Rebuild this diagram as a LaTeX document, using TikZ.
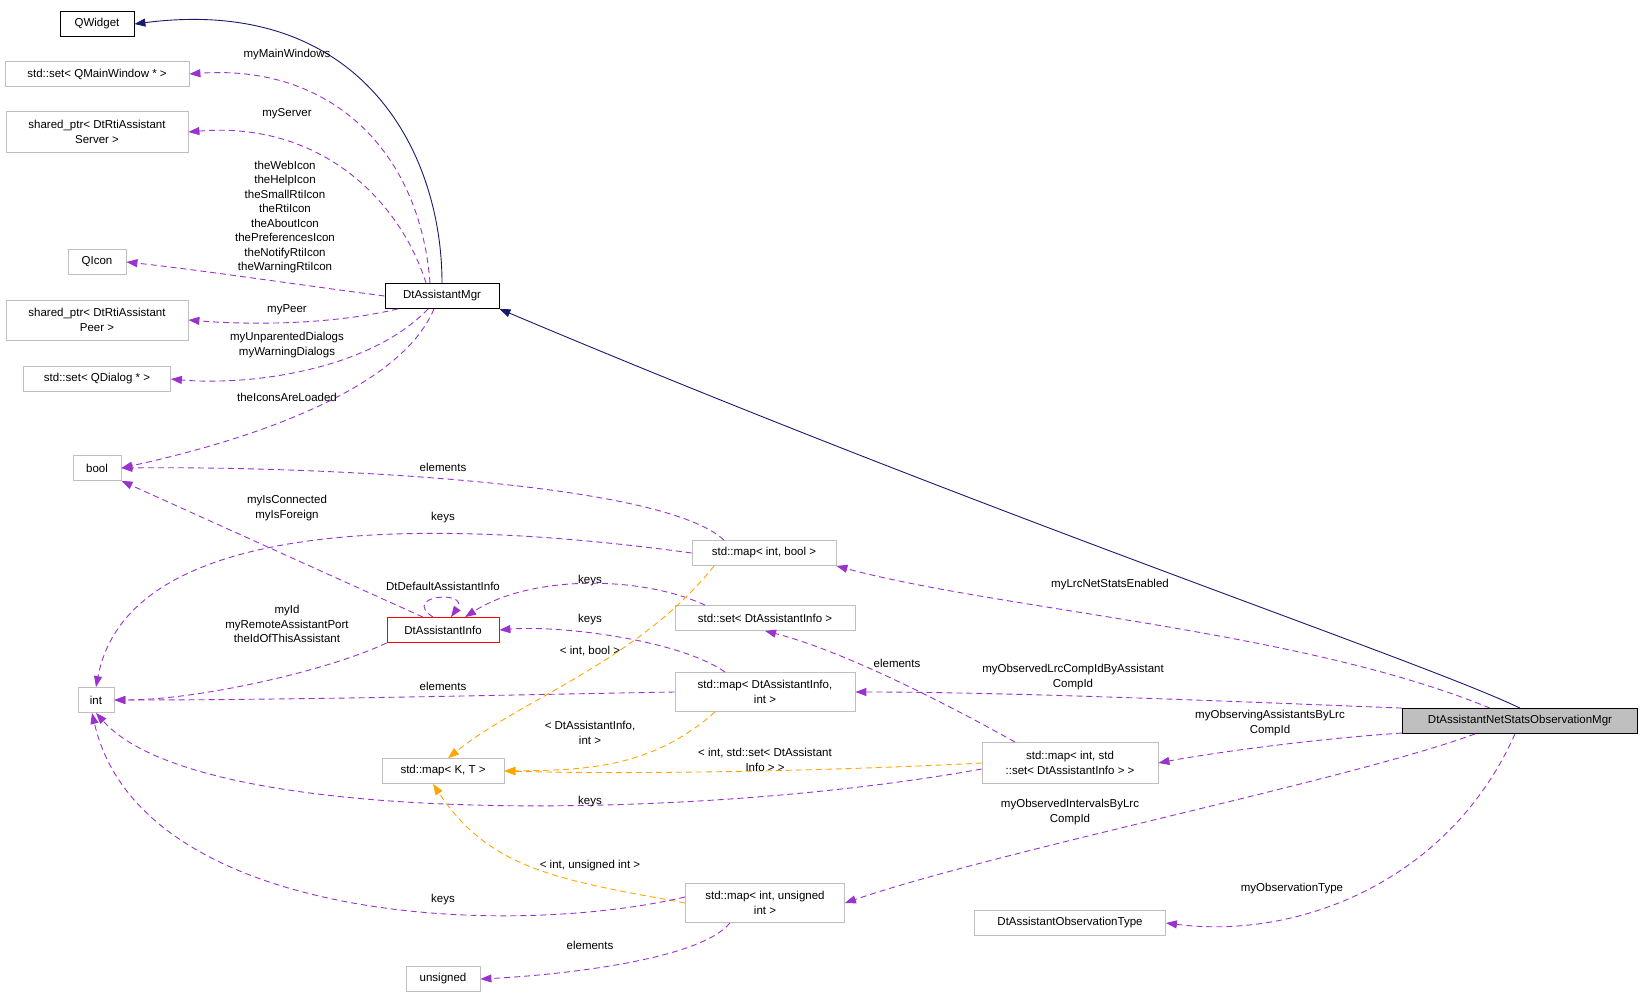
\documentclass[tikz,border=0pt]{standalone}
\usepackage{fontspec}
\setmainfont{Liberation Sans}
\usetikzlibrary{arrows.meta}
\definecolor{pur}{RGB}{154,50,205}
\definecolor{org}{RGB}{255,165,0}
\definecolor{nav}{RGB}{25,25,112}
\begin{document}
\begin{tikzpicture}[x=1pt,y=-1pt,
 every node/.style={font=\fontsize{11.5}{14.5}\selectfont,align=center,inner sep=0pt},
 box/.style={draw=black!25,line width=0.8pt,minimum height=25pt,fill=white},
 blk/.style={box,draw=black},
 mem/.style={draw=pur,dashed,dash pattern=on 6pt off 4pt,line width=0.9pt,-{Triangle[length=11pt,width=8pt,fill=pur]}},
 tpl/.style={mem,draw=org,-{Triangle[length=11pt,width=8pt,fill=org]}},
 inh/.style={draw=nav,line width=0.9pt,-{Triangle[length=11pt,width=8pt,fill=nav]}}]
\useasboundingbox (0,0) rectangle (1643,998);
\node[blk,minimum width=74pt] (qw) at (97,24) {QWidget};
\node[box,minimum width=184pt] (smw) at (97,74) {std::set< QMainWindow * >};
\node[box,minimum width=182pt,minimum height=41pt] (srv) at (97,132) {shared\_ptr< DtRtiAssistant\\Server >};
\node[box,minimum width=58pt] (qi) at (97,262) {QIcon};
\node[box,minimum width=182pt,minimum height=40pt] (peer) at (97,320) {shared\_ptr< DtRtiAssistant\\Peer >};
\node[box,minimum width=147pt] (sqd) at (97,379) {std::set< QDialog * >};
\node[box,minimum width=48pt] (bool) at (97,468) {bool};
\node[box,minimum width=36pt] (int) at (96,700) {int};
\node[box,minimum width=74pt] (uns) at (443,979) {unsigned};
\node[blk,minimum width=114pt] (mgr) at (442,296) {DtAssistantMgr};
\node[box,draw=red,minimum width=112pt] (dai) at (443,630) {DtAssistantInfo};
\node[box,minimum width=122pt] (kt) at (443,771) {std::map< K, T >};
\node[box,minimum width=144pt] (mib) at (764,553) {std::map< int, bool >};
\node[box,minimum width=180pt] (sdai) at (765,618) {std::set< DtAssistantInfo >};
\node[box,minimum width=180pt,minimum height=39pt] (mdai) at (765,692) {std::map< DtAssistantInfo,\\int >};
\node[box,minimum width=159pt,minimum height=39pt] (miu) at (765,903) {std::map< int, unsigned\\int >};
\node[box,minimum width=176pt,minimum height=41pt] (mis) at (1070,763) {std::map< int, std\\::set< DtAssistantInfo > >};
\node[box,minimum width=191pt] (ot) at (1070,923) {DtAssistantObservationType};
\node[blk,fill=black!25,minimum width=235pt] (om) at (1520,721) {DtAssistantNetStatsObservationMgr};

\draw[inh] (mgr.north) .. controls (442,150) and (360,-5) .. (qw.east);
\draw[inh] (om.north) .. controls (1420,660) and (1000,520) .. (mgr.south east);
\draw[mem] ([xshift=-12pt]mgr.north) .. controls (420,150) and (330,64) .. (smw.east);
\node at (287,55) {myMainWindows};
\draw[mem] ([xshift=-16pt]mgr.north) .. controls (400,200) and (320,121) .. (srv.east);
\node at (287,114) {myServer};
\draw[mem] (mgr.west) .. controls (300,285) and (200,270) .. (qi.east);
\node at (285,217) {theWebIcon\\theHelpIcon\\theSmallRtiIcon\\theRtiIcon\\theAboutIcon\\thePreferencesIcon\\theNotifyRtiIcon\\theWarningRtiIcon};
\draw[mem] ([xshift=-44pt]mgr.south) .. controls (330,325) and (250,325) .. (peer.east);
\node at (287,310) {myPeer};
\draw[mem] ([xshift=-14pt]mgr.south) .. controls (370,370) and (250,386) .. (sqd.east);
\node at (287,345) {myUnparentedDialogs\\myWarningDialogs};
\draw[mem] ([xshift=-8pt]mgr.south) .. controls (400,390) and (250,440) .. (bool.east);
\node at (287,397) {theIconsAreLoaded};
\draw[mem] ([xshift=-40pt]mib.north) .. controls (660,480) and (300,466) .. (bool.east);
\node at (443,467) {elements};
\draw[mem] (mib.west) .. controls (450,520) and (130,510) .. (int.north);
\node at (443,518) {keys};
\draw[mem] ([xshift=-20pt]dai.north) -- (bool.south east);
\node at (287,508) {myIsConnected\\myIsForeign};
\draw[mem] ([xshift=-10pt]dai.north) .. controls (400,595) and (470,590) .. ([xshift=8pt]dai.north);
\node at (443,586) {DtDefaultAssistantInfo};
\draw[mem] ([xshift=-60pt]sdai.north) .. controls (640,575) and (530,575) .. ([xshift=22pt]dai.north);
\node at (590,581) {keys};
\draw[mem] ([xshift=-40pt]mdai.north) .. controls (680,640) and (560,625) .. (dai.east);
\node at (590,620) {keys};
\draw[mem] (dai.south west) .. controls (330,670) and (200,700) .. (int.east);
\node at (287,624) {myId\\myRemoteAssistantPort\\theIdOfThisAssistant};
\draw[mem] (mdai.west) .. controls (500,695) and (300,700) .. (int.east);
\node at (443,686) {elements};
\draw[tpl] ([xshift=-50pt]mib.south) .. controls (640,660) and (520,700) .. ([xshift=5pt]kt.north);
\node at (590,651) {< int, bool >};
\draw[tpl] ([xshift=-50pt]mdai.south) .. controls (650,770) and (580,770) .. (kt.east);
\node at (590,733) {< DtAssistantInfo,\\int >};
\draw[tpl] (mis.west) .. controls (850,770) and (650,775) .. (kt.east);
\node at (765,760) {< int, std::set< DtAssistant\\Info > >};
\draw[tpl] (miu.west) .. controls (560,880) and (490,870) .. ([xshift=-10pt]kt.south);
\node at (590,866) {< int, unsigned int >};
\draw[mem] ([yshift=-6pt]mis.west) .. controls (700,820) and (200,830) .. (int.south);
\node at (590,802) {keys};
\draw[mem] ([yshift=6pt]miu.west) .. controls (500,940) and (140,920) .. ([xshift=-4pt]int.south);
\node at (443,900) {keys};
\draw[mem] ([xshift=-35pt]miu.south) .. controls (700,960) and (560,975) .. (uns.east);
\node at (590,945) {elements};
\draw[mem] ([xshift=-55pt]mis.north) .. controls (940,700) and (840,650) .. ([xshift=0pt]sdai.south);
\node at (897,663) {elements};
\draw[mem] ([xshift=-30pt]om.north) .. controls (1300,630) and (1000,610) .. (mib.south east);
\node at (1110,585) {myLrcNetStatsEnabled};
\draw[mem] (om.north west) .. controls (1200,700) and (1000,692) .. (mdai.east);
\node at (1073,677) {myObservedLrcCompIdByAssistant\\CompId};
\draw[mem] ([yshift=-12pt]om.west) .. controls (1300,740) and (1200,755) .. (mis.east);
\node at (1270,723) {myObservingAssistantsByLrc\\CompId};
\draw[mem] ([xshift=-45pt]om.south) .. controls (1350,780) and (1000,850) .. (miu.east);
\node at (1070,812) {myObservedIntervalsByLrc\\CompId};
\draw[mem] ([xshift=-5pt]om.south) .. controls (1450,880) and (1300,940) .. (ot.east);
\node at (1292,889) {myObservationType};
\end{tikzpicture}
\end{document}
